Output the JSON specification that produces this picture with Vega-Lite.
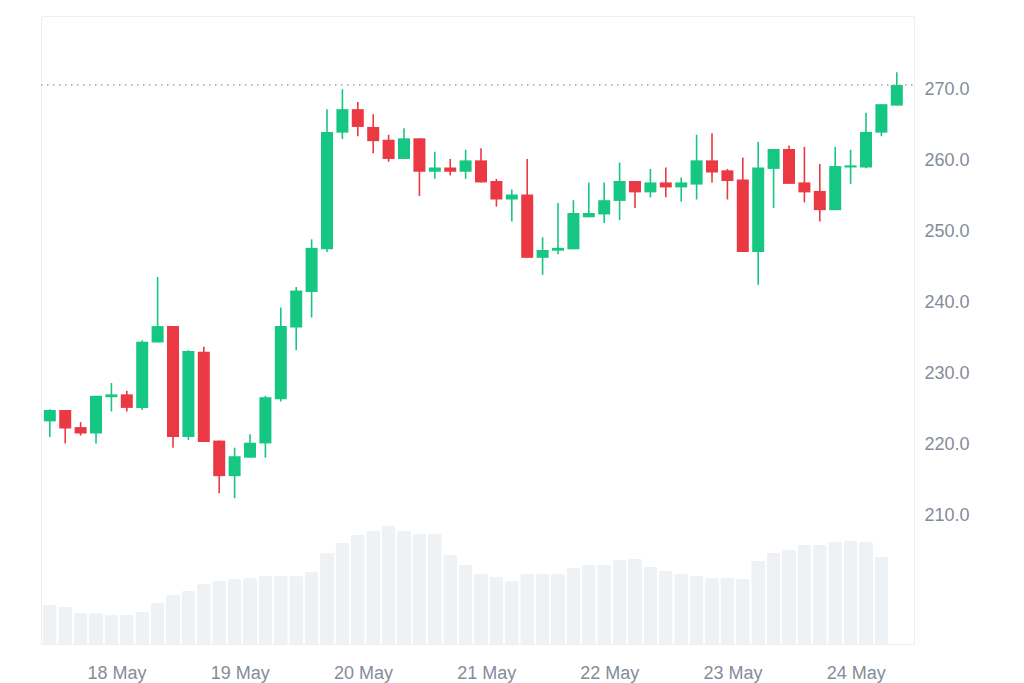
{
  "$schema": "https://vega.github.io/schema/vega-lite/v6.json",
  "description": "3-hour candlestick chart, 17-24 May, with volume bars along the bottom.",
  "width": 873,
  "height": 628,
  "padding": {"left": 40, "top": 16, "right": 60, "bottom": 10},
  "background": "white",
  "datasets": {
    "candles": [
      {"t": "2024-05-17T11:00:00Z", "open": 223.3, "high": 225.0, "low": 221.1, "close": 224.9, "volume": 39},
      {"t": "2024-05-17T14:00:00Z", "open": 224.9, "high": 224.9, "low": 220.2, "close": 222.3, "volume": 37},
      {"t": "2024-05-17T17:00:00Z", "open": 222.5, "high": 223.2, "low": 221.3, "close": 221.6, "volume": 31},
      {"t": "2024-05-17T20:00:00Z", "open": 221.6, "high": 226.9, "low": 220.2, "close": 226.9, "volume": 31},
      {"t": "2024-05-17T23:00:00Z", "open": 226.7, "high": 228.7, "low": 224.7, "close": 227.1, "volume": 29},
      {"t": "2024-05-18T02:00:00Z", "open": 227.1, "high": 227.6, "low": 224.7, "close": 225.2, "volume": 29},
      {"t": "2024-05-18T05:00:00Z", "open": 225.2, "high": 234.7, "low": 224.9, "close": 234.5, "volume": 32},
      {"t": "2024-05-18T08:00:00Z", "open": 234.4, "high": 243.6, "low": 234.4, "close": 236.7, "volume": 41},
      {"t": "2024-05-18T11:00:00Z", "open": 236.7, "high": 236.7, "low": 219.6, "close": 221.1, "volume": 49},
      {"t": "2024-05-18T14:00:00Z", "open": 221.1, "high": 233.3, "low": 220.7, "close": 233.2, "volume": 53},
      {"t": "2024-05-18T17:00:00Z", "open": 233.1, "high": 233.8, "low": 220.4, "close": 220.4, "volume": 60},
      {"t": "2024-05-18T20:00:00Z", "open": 220.6, "high": 220.6, "low": 213.2, "close": 215.6, "volume": 63},
      {"t": "2024-05-18T23:00:00Z", "open": 215.6, "high": 219.6, "low": 212.5, "close": 218.4, "volume": 65},
      {"t": "2024-05-19T02:00:00Z", "open": 218.2, "high": 221.5, "low": 218.2, "close": 220.3, "volume": 66},
      {"t": "2024-05-19T05:00:00Z", "open": 220.2, "high": 226.9, "low": 218.2, "close": 226.7, "volume": 68},
      {"t": "2024-05-19T08:00:00Z", "open": 226.4, "high": 239.3, "low": 226.1, "close": 236.7, "volume": 68},
      {"t": "2024-05-19T11:00:00Z", "open": 236.5, "high": 242.2, "low": 233.3, "close": 241.7, "volume": 68},
      {"t": "2024-05-19T14:00:00Z", "open": 241.5, "high": 248.9, "low": 237.9, "close": 247.7, "volume": 72},
      {"t": "2024-05-19T17:00:00Z", "open": 247.5, "high": 267.2, "low": 247.1, "close": 264.0, "volume": 91},
      {"t": "2024-05-19T20:00:00Z", "open": 263.9, "high": 270.0, "low": 263.0, "close": 267.2, "volume": 101},
      {"t": "2024-05-19T23:00:00Z", "open": 267.2, "high": 268.2, "low": 263.4, "close": 264.7, "volume": 109},
      {"t": "2024-05-20T02:00:00Z", "open": 264.7, "high": 266.5, "low": 261.0, "close": 262.7, "volume": 113},
      {"t": "2024-05-20T05:00:00Z", "open": 262.9, "high": 263.6, "low": 259.8, "close": 260.2, "volume": 118},
      {"t": "2024-05-20T08:00:00Z", "open": 260.2, "high": 264.5, "low": 260.2, "close": 263.1, "volume": 113},
      {"t": "2024-05-20T11:00:00Z", "open": 263.1, "high": 263.1, "low": 255.0, "close": 258.4, "volume": 110},
      {"t": "2024-05-20T14:00:00Z", "open": 258.4, "high": 261.2, "low": 257.4, "close": 259.0, "volume": 110},
      {"t": "2024-05-20T17:00:00Z", "open": 259.0, "high": 260.2, "low": 257.9, "close": 258.4, "volume": 89},
      {"t": "2024-05-20T20:00:00Z", "open": 258.4, "high": 261.5, "low": 257.4, "close": 260.0, "volume": 79},
      {"t": "2024-05-20T23:00:00Z", "open": 260.0, "high": 261.7, "low": 256.9, "close": 256.9, "volume": 70},
      {"t": "2024-05-21T02:00:00Z", "open": 257.1, "high": 257.4, "low": 253.5, "close": 254.5, "volume": 67},
      {"t": "2024-05-21T05:00:00Z", "open": 254.5, "high": 255.9, "low": 251.4, "close": 255.2, "volume": 63},
      {"t": "2024-05-21T08:00:00Z", "open": 255.2, "high": 260.2, "low": 246.3, "close": 246.3, "volume": 70},
      {"t": "2024-05-21T11:00:00Z", "open": 246.3, "high": 249.2, "low": 243.9, "close": 247.4, "volume": 70},
      {"t": "2024-05-21T14:00:00Z", "open": 247.3, "high": 254.0, "low": 246.8, "close": 247.7, "volume": 70},
      {"t": "2024-05-21T17:00:00Z", "open": 247.5, "high": 254.4, "low": 247.5, "close": 252.6, "volume": 76},
      {"t": "2024-05-21T20:00:00Z", "open": 252.0, "high": 256.9, "low": 252.0, "close": 252.6, "volume": 79},
      {"t": "2024-05-21T23:00:00Z", "open": 252.4, "high": 256.9, "low": 251.2, "close": 254.4, "volume": 79},
      {"t": "2024-05-22T02:00:00Z", "open": 254.3, "high": 259.7, "low": 251.6, "close": 257.1, "volume": 84},
      {"t": "2024-05-22T05:00:00Z", "open": 257.1, "high": 257.1, "low": 253.3, "close": 255.5, "volume": 85},
      {"t": "2024-05-22T08:00:00Z", "open": 255.5, "high": 258.8, "low": 254.8, "close": 256.9, "volume": 77},
      {"t": "2024-05-22T11:00:00Z", "open": 256.9, "high": 259.0, "low": 254.8, "close": 256.2, "volume": 73},
      {"t": "2024-05-22T14:00:00Z", "open": 256.2, "high": 257.6, "low": 254.2, "close": 256.9, "volume": 70},
      {"t": "2024-05-22T17:00:00Z", "open": 256.6, "high": 263.6, "low": 254.5, "close": 260.0, "volume": 68},
      {"t": "2024-05-22T20:00:00Z", "open": 260.0, "high": 263.8, "low": 256.9, "close": 258.3, "volume": 66},
      {"t": "2024-05-22T23:00:00Z", "open": 258.6, "high": 258.8, "low": 254.5, "close": 257.1, "volume": 66},
      {"t": "2024-05-23T02:00:00Z", "open": 257.3, "high": 260.4, "low": 247.1, "close": 247.1, "volume": 65},
      {"t": "2024-05-23T05:00:00Z", "open": 247.1, "high": 262.6, "low": 242.5, "close": 259.0, "volume": 83},
      {"t": "2024-05-23T08:00:00Z", "open": 258.8, "high": 261.6, "low": 253.3, "close": 261.6, "volume": 91},
      {"t": "2024-05-23T11:00:00Z", "open": 261.6, "high": 262.1, "low": 256.7, "close": 256.7, "volume": 94},
      {"t": "2024-05-23T14:00:00Z", "open": 256.9, "high": 261.9, "low": 254.1, "close": 255.5, "volume": 99},
      {"t": "2024-05-23T17:00:00Z", "open": 255.7, "high": 259.5, "low": 251.4, "close": 253.0, "volume": 99},
      {"t": "2024-05-23T20:00:00Z", "open": 253.0, "high": 261.9, "low": 253.0, "close": 259.2, "volume": 102},
      {"t": "2024-05-23T23:00:00Z", "open": 259.0, "high": 261.5, "low": 256.7, "close": 259.3, "volume": 103},
      {"t": "2024-05-24T02:00:00Z", "open": 259.0, "high": 266.7, "low": 258.9, "close": 264.0, "volume": 102},
      {"t": "2024-05-24T05:00:00Z", "open": 263.9, "high": 267.9, "low": 263.4, "close": 267.9, "volume": 87},
      {"t": "2024-05-24T08:00:00Z", "open": 267.7, "high": 272.4, "low": 267.7, "close": 270.6, "volume": null}
    ]
  },
  "data": {"name": "candles"},
  "transform": [
    {"calculate": "datum.close >= datum.open ? 'up' : 'down'", "as": "dir"}
  ],
  "encoding": {
    "x": {
      "field": "t",
      "type": "temporal",
      "title": null,
      "scale": {
        "type": "utc",
        "padding": 0,
        "domain": [
          {"year": 2024, "month": 5, "date": 17, "hours": 9, "minutes": 17, "utc": true},
          {"year": 2024, "month": 5, "date": 24, "hours": 11, "minutes": 21, "utc": true}
        ]
      },
      "axis": {
        "values": [
          {"year": 2024, "month": 5, "date": 18, "utc": true},
          {"year": 2024, "month": 5, "date": 19, "utc": true},
          {"year": 2024, "month": 5, "date": 20, "utc": true},
          {"year": 2024, "month": 5, "date": 21, "utc": true},
          {"year": 2024, "month": 5, "date": 22, "utc": true},
          {"year": 2024, "month": 5, "date": 23, "utc": true},
          {"year": 2024, "month": 5, "date": 24, "utc": true}
        ],
        "labelExpr": "utcFormat(datum.value, '%-d %b')",
        "grid": false,
        "domain": false,
        "ticks": false,
        "tickSize": 0,
        "labelPadding": 20,
        "labelFlush": false
      }
    }
  },
  "layer": [
    {
      "mark": {"type": "bar", "size": 14, "color": "#eff2f5", "cornerRadiusTopLeft": 2, "cornerRadiusTopRight": 2},
      "encoding": {
        "y": {
          "field": "volume",
          "type": "quantitative",
          "scale": {"domain": [0, 628]},
          "axis": null
        }
      }
    },
    {
      "layer": [
        {
          "mark": {"type": "rule", "strokeWidth": 1.6},
          "encoding": {
            "y": {
              "field": "low",
              "type": "quantitative",
              "title": null,
              "scale": {"domain": [192, 280.3], "nice": false, "zero": false},
              "axis": {
                "orient": "right",
                "values": [210, 220, 230, 240, 250, 260, 270],
                "format": ".1f",
                "domain": false,
                "ticks": false,
                "tickSize": 0,
                "labelPadding": 10,
                "gridColor": "#eff2f5",
                "gridWidth": 1
              }
            },
            "y2": {"field": "high"},
            "color": {
              "field": "dir",
              "type": "nominal",
              "scale": {"domain": ["up", "down"], "range": ["#16c784", "#ea3943"]},
              "legend": null
            }
          }
        },
        {
          "mark": {"type": "bar", "size": 12},
          "encoding": {
            "y": {"field": "open", "type": "quantitative"},
            "y2": {"field": "close"},
            "color": {"field": "dir", "type": "nominal", "legend": null}
          }
        },
        {
          "data": {"values": [{"price": 270.6}]},
          "mark": {"type": "rule", "color": "#9aa1ad", "strokeWidth": 1.5, "strokeDash": [1.5, 4.5]},
          "encoding": {
            "x": {"value": 0},
            "x2": {"value": 873},
            "y": {"field": "price", "type": "quantitative"}
          }
        }
      ]
    }
  ],
  "resolve": {"scale": {"y": "independent"}},
  "config": {
    "view": {"stroke": "#eceff3"},
    "axis": {
      "labelFont": "Liberation Sans",
      "labelFontSize": 18,
      "labelColor": "#858c99"
    }
  }
}
